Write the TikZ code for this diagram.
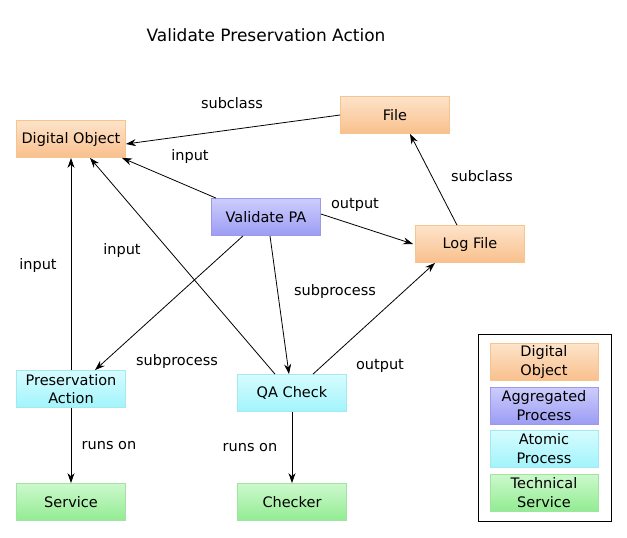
\documentclass[tikz,border=0pt]{standalone}
\usepackage{fontspec}
\setmainfont{DejaVu Sans}
\usepackage{xcolor}
\usepackage{tikz}
\usetikzlibrary{positioning,arrows.meta}

\definecolor{objline}{HTML}{F6C48F}
\definecolor{objtop}{HTML}{FDE3CA}
\definecolor{objbot}{HTML}{F9C08C}
\definecolor{aggline}{HTML}{9A9AE8}
\definecolor{aggtop}{HTML}{CDCDFC}
\definecolor{aggbot}{HTML}{9C9CF4}
\definecolor{atoline}{HTML}{A4E8F0}
\definecolor{atotop}{HTML}{D6FCFE}
\definecolor{atobot}{HTML}{A2F4FC}
\definecolor{tecline}{HTML}{A2E2A2}
\definecolor{tectop}{HTML}{CDF8CD}
\definecolor{tecbot}{HTML}{92EC92}

\tikzset{
    box/.style={draw, line width=0.8pt, minimum width=109pt, minimum height=37pt,
        inner sep=1pt, align=center, font=\fontsize{14.5}{18.5}\selectfont},
    objbox/.style={box, draw=objline, top color=objtop, bottom color=objbot},
    aggbox/.style={box, draw=aggline, top color=aggtop, bottom color=aggbot},
    atobox/.style={box, draw=atoline, top color=atotop, bottom color=atobot},
    tecbox/.style={box, draw=tecline, top color=tectop, bottom color=tecbot},
    lbl/.style={font=\fontsize{14.5}{17}\selectfont, inner sep=0pt},
    rel/.style={-{Stealth[length=10pt,width=7pt]}, line width=0.8pt}
}

\begin{document}
\begin{tikzpicture}[x=1pt, y=-1pt]
    \useasboundingbox (0,0) rectangle (627,538);
    % Title
    \node[font=\fontsize{17}{20}\selectfont] (title) at (266,35) {Validate Preservation Action};

    % Classes and processes
    \node[objbox] (dobj) at (71,139) {Digital Object};
    \node[objbox] (file) at (395,115) {File};
    \node[aggbox] (vpa) at (266,217) {Validate PA};
    \node[objbox] (log) at (470,244) {Log File};
    \node[atobox] (pa) at (71,389) {Preservation\\Action};
    \node[atobox] (qa) at (292,393) {QA Check};
    \node[tecbox] (service) at (71,502) {Service};
    \node[tecbox] (checker) at (292,502) {Checker};

    % Relations
    \draw[rel] (file.west) -- ([yshift=-5pt]dobj.east);
    \draw[rel] ([xshift=-50pt]vpa.north) -- ([xshift=51pt]dobj.south);
    \draw[rel] ([xshift=-17pt]qa.north) -- ([xshift=19pt]dobj.south);
    \draw[rel] (pa.north) -- (dobj.south);
    \draw[rel] ([yshift=3pt]vpa.east) -- ([xshift=-2pt]log.west);
    \draw[rel] ([xshift=-13pt]log.north) -- ([xshift=15pt]file.south);
    \draw[rel] ([xshift=-23pt]vpa.south) -- ([xshift=24pt]pa.north);
    \draw[rel] ([xshift=4pt]vpa.south) -- ([xshift=-3pt]qa.north);
    \draw[rel] ([xshift=21pt]qa.north) -- ([xshift=-35pt]log.south);
    \draw[rel] (pa.south) -- (service.north);
    \draw[rel] (qa.south) -- (checker.north);

    % Relation labels
    \node[lbl] (l1) at (232,103) {subclass};
    \node[lbl] (l2) at (190,156) {input};
    \node[lbl] (l3) at (122,250) {input};
    \node[lbl] (l4) at (38,265) {input};
    \node[lbl] (l5) at (355,205) {output};
    \node[lbl] (l6) at (482,176) {subclass};
    \node[lbl] (l7) at (335,291) {subprocess};
    \node[lbl] (l8) at (177,361) {subprocess};
    \node[lbl] (l9) at (380,366) {output};
    \node[lbl] (l10) at (109,446) {runs on};
    \node[lbl] (l11) at (250,448) {runs on};

    % Legend
    \draw[line width=0.8pt] (478,334) rectangle (611,521);
    \node[objbox, minimum width=108pt] (k1) at (544,362) {Digital\\Object};
    \node[aggbox, minimum width=108pt] (k2) at (544,405.5) {Aggregated\\Process};
    \node[atobox, minimum width=108pt] (k3) at (544,448.5) {Atomic\\Process};
    \node[tecbox, minimum width=108pt] (k4) at (544,492.5) {Technical\\Service};
\end{tikzpicture}
\end{document}
